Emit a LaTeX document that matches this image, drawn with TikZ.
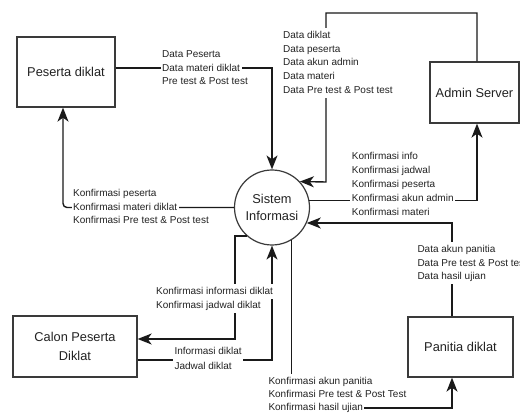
\documentclass[tikz,border=0pt]{standalone}
\usepackage{fontspec}
\setmainfont{Liberation Sans}
\usetikzlibrary{arrows.meta,calc}
\definecolor{linecol}{HTML}{1A1A1A}
\definecolor{boxcol}{HTML}{3A3A3A}
\definecolor{txtcol}{HTML}{222222}
\begin{document}
\begin{tikzpicture}[x=1pt,y=-1pt,
  box/.style={draw=boxcol, line width=1.3pt, fill=white, inner sep=0pt, font=\fontsize{12.8}{19}\selectfont, text=txtcol, align=center},
  flow/.style={draw=linecol, line width=1.4pt, -{Stealth[length=14pt,width=11pt,inset=4pt]}},
  lbl/.style={fill=white, inner xsep=1.5pt, inner ysep=2.6pt, text height=7.5pt, text depth=2pt, anchor=west, font=\fontsize{10}{13.7}\selectfont, text=txtcol}]

\useasboundingbox (0,0) rectangle (520,414);
\fill[white] (0,0) rectangle (520,414);

% entities
\node[box, minimum width=98pt, minimum height=70pt] (peserta) at (66,72) {Peserta diklat};
\node[box, minimum width=89pt, minimum height=61pt] (admin) at (474.5,92.5) {Admin Server};
\node[box, minimum width=124pt, minimum height=61pt] (calon) at (75,346.5) {Calon Peserta\\Diklat};
\node[box, minimum width=105pt, minimum height=60pt] (panitia) at (460.5,347) {Panitia diklat};
\node[circle, draw=boxcol, line width=1.2pt, fill=white, minimum size=75pt, inner sep=0pt, align=center, text=txtcol, font=\fontsize{12.8}{17}\selectfont] (sistem) at (272,207.5) {Sistem\\Informasi};

% connectors
\coordinate (a1) at (326,13);
\coordinate (a2) at (326,182);
\coordinate (c6) at (452,408);
\coordinate (c7) at (235,339);

\draw[flow] ([yshift=4pt]peserta.east) -| (sistem.north);
\draw[flow] ([xshift=2.5pt]admin.north) |- (a1) -- (a2) -- (sistem.43);
\draw[flow, rounded corners=4pt] (sistem.west) -| ([xshift=-3pt]peserta.south);
\draw[flow] (sistem.11.5) -| ([xshift=2.5pt]admin.south);
\draw[flow] ([xshift=-8.5pt]panitia.north) |- (sistem.-24.4);
\draw[flow] (sistem.-59.5) |- (c6) -- ([xshift=-8.5pt]panitia.south);
\draw[flow] (sistem.228) -| (c7) -- ([yshift=7.5pt]calon.east);
\draw[flow] ([yshift=-13.5pt]calon.east) -| (sistem.south);

% labels
\node[lbl] (l1a) at (160.5,54.6) {Data Peserta};
\node[lbl] (l1b) at (160.5,68.3) {Data materi diklat};
\node[lbl] (l1c) at (160.5,82) {Pre test \& Post test};

\node[lbl] (l2a) at (281.5,35.5) {Data diklat};
\node[lbl] (l2b) at (281.5,49.3) {Data peserta};
\node[lbl] (l2c) at (281.5,63.1) {Data akun admin};
\node[lbl] (l2d) at (281.5,76.9) {Data materi};
\node[lbl] (l2e) at (281.5,90.7) {Data Pre test \& Post test};

\node[lbl] (l3a) at (71.5,193.8) {Konfirmasi peserta};
\node[lbl] (l3b) at (71.5,207.5) {Konfirmasi materi diklat};
\node[lbl] (l3c) at (71.5,221.2) {Konfirmasi Pre test \& Post test};

\node[lbl] (l4a) at (350.2,157) {Konfirmasi info};
\node[lbl] (l4b) at (350.2,170.9) {Konfirmasi jadwal};
\node[lbl] (l4c) at (350.2,184.8) {Konfirmasi peserta};
\node[lbl] (l4d) at (350.2,198.7) {Konfirmasi akun admin};
\node[lbl] (l4e) at (350.2,212.6) {Konfirmasi materi};

\node[lbl] (l5a) at (415.8,249.5) {Data akun panitia};
\node[lbl] (l5b) at (415.8,263.3) {Data Pre test \& Post test};
\node[lbl] (l5c) at (415.8,277.1) {Data hasil ujian};

\node[lbl] (l6a) at (266.8,381.5) {Konfirmasi akun panitia};
\node[lbl] (l6b) at (266.8,394.8) {Konfirmasi Pre test \& Post Test};
\node[lbl] (l6c) at (266.8,408) {Konfirmasi hasil ujian};

\node[lbl] (l7a) at (154.5,291.7) {Konfirmasi informasi diklat};
\node[lbl] (l7b) at (154.5,305.7) {Konfirmasi jadwal diklat};

\node[lbl, inner ysep=1pt, text height=, text depth=, align=left, font=\fontsize{10}{14.5}\selectfont] (l8) at (172.8,358.5) {Informasi diklat\\Jadwal diklat};
\end{tikzpicture}
\end{document}
